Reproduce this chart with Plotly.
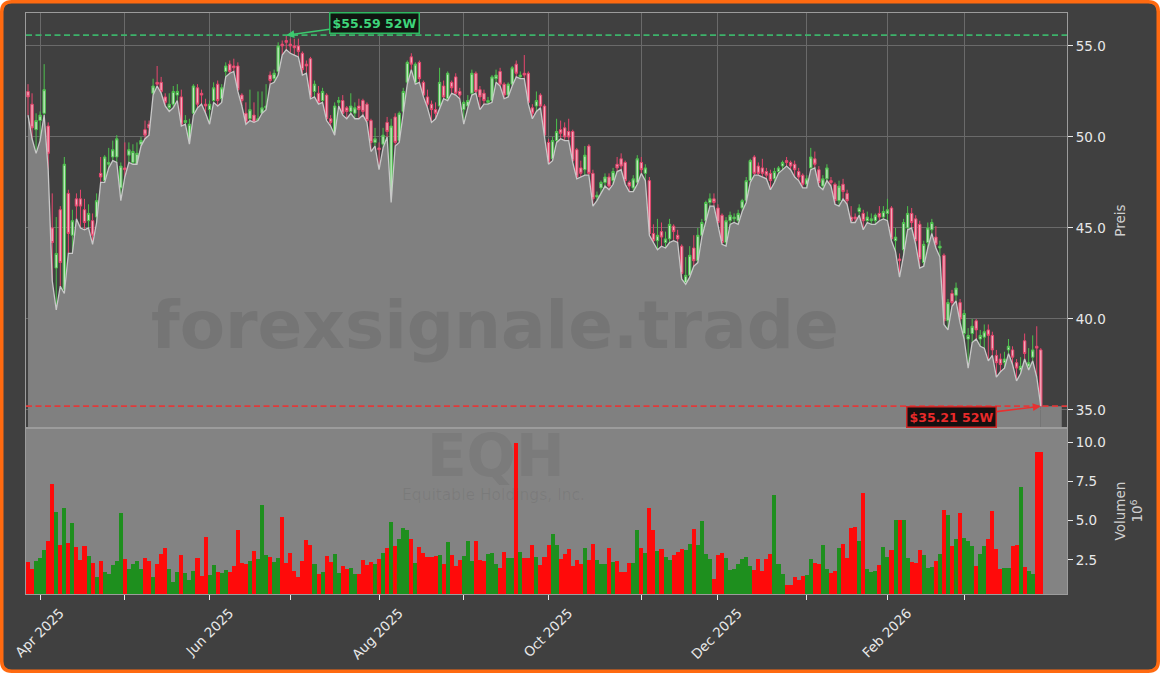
import pandas as pd
import plotly.graph_objects as go
from plotly.subplots import make_subplots

# ---------------- data ----------------
holidays = ["2025-04-18", "2025-05-26", "2025-06-19", "2025-07-04", "2025-09-01",
            "2025-11-27", "2025-12-25", "2026-01-01", "2026-01-19", "2026-02-16"]
dates = pd.bdate_range("2025-03-27", "2026-03-27", freq="C",
                       holidays=holidays).strftime("%Y-%m-%d").tolist()

open_ = [52.5, 51.8, 50.4, 50.9, 51.3, 50.6, 45.0, 42.8, 46.0, 41.6,
         46.9, 44.6, 46.6, 46.6, 46.0, 45.4, 45.4, 45.6, 48.0, 47.6,
         48.5, 48.9, 48.9, 47.2, 48.3, 49.0, 48.6, 48.5, 49.6, 50.4,
         50.7, 52.4, 53.0, 53.0, 52.2, 51.6, 51.8, 52.3, 52.2, 50.8,
         49.7, 51.3, 52.7, 52.4, 51.8, 51.5, 52.0, 52.9, 52.1, 53.6,
         54.0, 53.9, 53.9, 52.3, 51.3, 51.0, 51.2, 50.9, 51.3, 51.6,
         53.4, 53.2, 53.6, 55.1, 55.3, 55.1, 55.0, 55.0, 54.6, 54.0,
         54.3, 52.5, 52.4, 52.0, 52.3, 51.0, 50.2, 51.9, 52.0, 51.6,
         51.4, 51.3, 51.7, 52.0, 51.8, 50.9, 49.7, 49.4, 49.6, 50.8,
         46.5, 51.1, 49.8, 51.4, 53.0, 54.4, 53.0, 54.1, 53.0, 52.2,
         51.8, 51.5, 51.7, 52.8, 52.1, 53.0, 53.3, 52.5, 51.5, 51.7,
         52.4, 53.5, 52.6, 52.4, 51.9, 52.0, 53.2, 53.6, 52.9, 52.3,
         52.9, 54.0, 53.3, 53.5, 53.5, 51.6, 51.7, 52.3, 51.7, 49.7,
         48.8, 49.8, 50.4, 50.5, 50.3, 50.3, 49.3, 48.3, 48.2, 49.5,
         48.0, 46.7, 47.2, 47.5, 47.8, 47.6, 48.5, 48.8, 48.6, 47.5,
         47.2, 47.5, 48.6, 48.0, 47.6, 44.7, 44.3, 44.8, 44.2, 44.4,
         45.1, 44.6, 44.0, 42.0, 42.4, 43.9, 43.2, 44.6, 45.4, 46.4,
         46.6, 46.1, 45.7, 44.2, 45.4, 45.5, 45.4, 46.1, 46.5, 47.6,
         48.9, 48.4, 48.3, 48.1, 48.0, 47.7, 48.1, 48.4, 48.7, 48.6,
         48.5, 48.1, 47.9, 47.4, 48.3, 48.8, 48.2, 47.3, 47.7, 47.6,
         47.4, 46.5, 47.4, 46.9, 45.6, 45.6, 45.9, 45.8, 45.4, 45.4,
         45.4, 45.8, 45.6, 45.8, 46.1, 44.3, 43.3, 43.8, 45.0, 45.8,
         45.5, 45.2, 43.1, 44.2, 44.9, 44.5, 43.9, 43.5, 39.9, 41.4,
         41.3, 40.9, 39.2, 38.9, 39.2, 39.9, 38.9, 39.0, 39.4, 39.1,
         38.0, 37.8, 37.6, 38.3, 38.3, 37.6, 37.2, 38.8, 37.4, 37.9,
         38.5, 38.3]

high = [52.9, 52.4, 51.3, 51.4, 54.0, 50.8, 46.9, 45.6, 46.2, 48.9,
        47.1, 46.0, 46.9, 47.1, 46.6, 46.3, 45.8, 46.9, 48.9, 49.0,
        49.4, 49.8, 50.1, 48.6, 49.7, 49.7, 49.6, 49.7, 50.0, 50.9,
        50.9, 53.2, 53.9, 53.3, 52.4, 52.4, 52.8, 52.9, 52.6, 51.2,
        51.0, 52.9, 52.9, 52.6, 52.1, 52.0, 53.0, 53.1, 52.9, 54.1,
        54.2, 54.3, 54.1, 52.4, 51.9, 52.6, 51.9, 52.5, 52.5, 52.9,
        53.6, 53.7, 55.2, 55.3, 55.59, 55.4, 55.4, 55.4, 54.7, 54.2,
        54.4, 53.1, 52.8, 52.7, 52.4, 51.2, 51.9, 52.2, 52.3, 51.7,
        52.4, 51.9, 52.1, 52.1, 51.9, 51.0, 50.5, 49.7, 50.5, 51.1,
        51.0, 51.3, 51.4, 52.7, 54.2, 54.6, 54.1, 54.2, 53.1, 52.6,
        52.0, 51.9, 53.8, 53.1, 53.6, 53.1, 53.5, 52.7, 52.0, 52.3,
        53.7, 53.6, 52.8, 52.6, 52.2, 53.4, 53.7, 53.8, 53.0, 53.0,
        53.9, 54.2, 53.6, 54.5, 53.6, 51.8, 52.5, 52.4, 51.8, 49.9,
        50.0, 51.0, 50.9, 50.8, 51.0, 50.4, 49.4, 48.7, 49.5, 49.6,
        48.2, 47.0, 47.6, 48.0, 48.0, 48.3, 48.9, 49.1, 48.7, 47.6,
        47.9, 49.0, 48.9, 48.5, 47.8, 45.2, 45.5, 45.3, 44.8, 45.5,
        45.2, 44.9, 44.1, 43.4, 44.0, 44.6, 45.0, 45.5, 46.5, 46.9,
        46.9, 46.3, 45.8, 45.6, 45.9, 45.8, 46.0, 46.6, 47.8, 48.8,
        49.0, 48.6, 48.8, 48.3, 48.2, 48.3, 48.4, 48.7, 48.9, 48.7,
        48.7, 48.3, 48.0, 47.9, 49.4, 49.2, 48.4, 47.9, 48.5, 47.8,
        47.5, 47.6, 47.7, 47.1, 46.2, 45.8, 46.3, 46.0, 45.9, 45.8,
        45.8, 46.2, 46.2, 46.6, 46.2, 45.0, 43.6, 45.5, 46.2, 46.1,
        45.7, 45.4, 44.3, 45.3, 45.5, 45.1, 44.3, 43.6, 41.1, 41.6,
        42.0, 41.1, 40.5, 39.5, 40.0, 40.0, 39.4, 39.7, 39.7, 39.3,
        38.3, 38.1, 38.2, 38.9, 38.5, 37.8, 37.9, 39.2, 38.4, 39.1,
        39.6, 38.4]

low = [51.2, 49.9, 49.1, 49.8, 51.2, 48.2, 42.1, 40.5, 41.8, 41.4,
       43.6, 43.6, 45.5, 45.0, 44.9, 45.0, 44.1, 45.3, 47.5, 47.5,
       48.3, 48.7, 48.6, 46.5, 47.8, 48.6, 48.5, 48.5, 49.5, 49.9,
       50.1, 52.3, 52.8, 52.4, 51.7, 51.4, 51.6, 52.0, 50.6, 50.7,
       49.6, 51.2, 51.6, 51.8, 51.3, 50.7, 51.9, 51.7, 51.9, 53.3,
       53.5, 53.6, 52.5, 51.7, 50.7, 50.9, 50.8, 50.9, 51.3, 51.5,
       52.9, 53.0, 53.4, 54.5, 54.8, 54.6, 54.5, 54.4, 53.4, 53.5,
       52.1, 52.2, 51.8, 51.9, 50.9, 50.6, 50.1, 51.7, 51.2, 51.0,
       51.3, 51.0, 51.0, 51.2, 50.8, 49.2, 49.5, 48.2, 49.4, 50.0,
       46.4, 49.5, 49.7, 51.3, 52.9, 53.7, 52.9, 53.0, 52.2, 51.6,
       50.8, 51.0, 51.6, 52.1, 52.0, 52.4, 52.3, 52.1, 50.7, 51.6,
       52.3, 52.4, 51.5, 51.8, 51.8, 51.9, 53.0, 52.8, 52.1, 52.2,
       52.8, 53.3, 53.2, 53.2, 51.8, 51.0, 51.4, 51.6, 50.0, 48.5,
       48.7, 49.7, 49.9, 49.8, 49.8, 48.6, 47.7, 47.8, 47.9, 47.9,
       46.2, 46.5, 46.9, 47.3, 47.1, 47.4, 48.1, 48.2, 47.4, 47.0,
       47.0, 47.4, 48.0, 47.6, 44.6, 44.2, 43.8, 44.0, 43.9, 44.2,
       44.3, 44.2, 42.2, 41.9, 42.3, 42.9, 43.1, 44.5, 45.3, 46.2,
       46.2, 45.1, 44.1, 44.0, 45.2, 45.3, 45.2, 45.9, 46.4, 47.5,
       47.9, 47.9, 47.8, 47.7, 47.1, 47.5, 48.0, 48.2, 48.4, 48.2,
       47.8, 47.6, 47.2, 47.2, 48.2, 48.3, 47.3, 47.1, 47.6, 47.3,
       46.3, 46.2, 46.6, 46.3, 45.3, 45.3, 45.7, 44.9, 45.3, 45.2,
       45.2, 45.4, 45.5, 45.4, 44.3, 43.7, 42.3, 43.5, 44.9, 45.0,
       44.1, 42.8, 42.9, 43.9, 44.7, 43.9, 43.4, 39.7, 39.4, 40.7,
       41.0, 39.8, 38.9, 37.3, 38.7, 38.9, 38.5, 38.4, 37.7, 38.0,
       36.8, 37.1, 37.3, 38.1, 37.5, 36.6, 37.0, 37.8, 37.2, 37.7,
       36.8, 35.21]

close = [52.2, 50.5, 50.9, 51.2, 52.6, 49.1, 44.2, 43.6, 43.1, 48.5,
         44.7, 45.4, 46.2, 46.2, 45.3, 45.8, 44.6, 46.5, 47.8, 48.9,
         48.6, 49.3, 49.9, 48.4, 48.2, 49.3, 49.2, 49.1, 49.8, 50.1,
         50.5, 52.8, 52.9, 52.5, 51.9, 51.8, 52.5, 52.5, 50.7, 50.9,
         50.7, 52.8, 51.8, 52.3, 51.7, 51.8, 52.7, 52.0, 52.7, 53.9,
         53.6, 53.8, 52.6, 52.0, 50.8, 51.5, 50.8, 51.0, 51.6, 51.7,
         53.1, 53.5, 55.0, 55.0, 55.2, 55.0, 54.9, 54.7, 53.7, 53.9,
         52.2, 52.9, 51.9, 52.5, 51.0, 50.8, 51.7, 52.0, 51.3, 51.4,
         51.7, 51.6, 51.5, 51.4, 50.9, 49.7, 49.9, 49.3, 50.1, 50.3,
         50.6, 49.7, 51.3, 52.5, 54.1, 54.0, 54.0, 53.2, 52.3, 51.8,
         51.5, 51.3, 53.0, 52.2, 53.5, 52.7, 52.4, 52.3, 51.9, 52.0,
         53.5, 52.5, 52.2, 52.0, 52.0, 53.3, 53.4, 52.9, 52.3, 52.9,
         53.8, 53.5, 53.4, 53.4, 51.9, 51.3, 52.0, 51.7, 50.1, 48.6,
         49.8, 50.3, 50.2, 50.0, 50.0, 48.7, 47.8, 48.0, 49.0, 48.0,
         46.6, 46.8, 47.5, 47.8, 47.3, 48.1, 48.3, 48.4, 47.6, 47.3,
         47.7, 48.8, 48.2, 48.3, 44.7, 44.3, 44.6, 44.5, 44.4, 45.2,
         44.8, 44.4, 42.5, 42.4, 43.5, 43.2, 44.6, 45.3, 46.4, 46.6,
         46.4, 45.3, 44.2, 45.4, 45.7, 45.6, 45.8, 46.5, 47.6, 48.7,
         48.0, 48.0, 48.0, 47.9, 47.6, 48.1, 48.3, 48.6, 48.6, 48.4,
         48.2, 47.8, 47.4, 47.7, 48.9, 48.5, 47.5, 47.7, 48.3, 47.5,
         46.5, 47.3, 47.0, 46.5, 45.4, 45.5, 46.1, 45.4, 45.6, 45.5,
         45.7, 45.6, 45.9, 46.0, 44.4, 44.5, 43.2, 45.3, 45.8, 45.3,
         44.3, 43.3, 44.1, 45.0, 45.3, 44.1, 44.0, 39.9, 40.9, 40.9,
         41.7, 40.0, 40.3, 39.1, 39.6, 39.4, 39.1, 39.3, 39.1, 38.3,
         37.6, 37.5, 37.8, 38.5, 37.9, 37.3, 37.4, 38.1, 37.6, 38.3,
         38.4, 35.21]

volume_mio = [2.38, 1.91, 2.42, 2.63, 3.12, 3.69, 7.32, 5.54, 3.44, 5.79,
              3.54, 4.86, 3.33, 2.48, 3.37, 2.74, 2.27, 1.42, 2.42, 1.70,
              1.59, 2.16, 2.42, 5.46, 2.53, 1.91, 2.23, 2.42, 1.91, 2.59,
              2.42, 1.42, 2.23, 2.86, 3.23, 1.91, 1.08, 1.74, 2.80, 1.63,
              1.21, 1.78, 2.59, 1.48, 3.97, 1.53, 2.16, 1.70, 1.63, 1.85,
              1.70, 2.12, 4.39, 2.27, 2.21, 2.42, 3.08, 2.55, 5.99, 2.80,
              2.70, 2.34, 2.63, 5.24, 2.27, 2.95, 1.78, 1.42, 2.42, 3.76,
              3.44, 2.23, 1.59, 1.70, 2.74, 2.38, 2.84, 1.63, 2.10, 1.91,
              1.99, 1.59, 1.59, 2.48, 2.16, 2.34, 2.23, 2.55, 2.91, 3.23,
              4.90, 3.37, 3.82, 4.50, 4.39, 3.82, 2.27, 3.33, 2.95, 2.70,
              2.70, 2.74, 2.80, 2.23, 3.63, 2.80, 2.12, 2.48, 2.74, 3.69,
              2.42, 3.69, 2.48, 2.42, 2.84, 2.91, 2.23, 1.99, 2.99, 2.63,
              2.63, 9.96, 2.97, 2.63, 2.63, 3.44, 2.70, 2.16, 2.70, 3.44,
              4.14, 3.44, 2.55, 2.84, 3.18, 2.12, 2.48, 2.23, 3.25, 2.48,
              3.50, 2.48, 2.23, 2.23, 3.25, 2.38, 2.42, 1.74, 1.74, 2.27,
              2.27, 4.39, 3.25, 2.91, 5.82, 4.39, 3.06, 3.18, 2.70, 2.48,
              2.80, 3.01, 3.18, 3.12, 3.50, 4.48, 3.44, 4.99, 2.86, 2.55,
              1.27, 2.80, 2.95, 2.63, 1.85, 1.91, 2.21, 2.53, 2.65, 2.10,
              1.85, 2.55, 1.78, 2.57, 2.86, 6.62, 2.23, 1.59, 0.89, 0.89,
              1.38, 1.21, 1.46, 1.53, 2.53, 2.31, 2.23, 3.44, 1.89, 1.63,
              1.78, 3.23, 3.48, 2.63, 4.54, 4.56, 3.69, 6.73, 1.91, 1.74,
              1.78, 2.16, 3.29, 2.70, 3.12, 5.03, 5.03, 5.03, 2.63, 2.34,
              2.31, 3.12, 2.80, 1.99, 2.06, 2.44, 2.84, 5.67, 5.35, 3.37,
              3.82, 5.46, 3.91, 3.71, 3.37, 2.10, 2.86, 3.37, 3.82, 5.60,
              3.18, 1.89, 1.99, 1.99, 3.37, 3.44, 7.15, 2.06, 1.78, 1.59,
              9.34, 9.38]

label_ticks = ["2025-04-01", "2025-06-02", "2025-08-01", "2025-10-01",
               "2025-12-01", "2026-02-02"]
label_texts = ["Apr 2025", "Jun 2025", "Aug 2025", "Oct 2025", "Dec 2025", "Feb 2026"]
minor_ticks = ["2025-05-01", "2025-07-01", "2025-09-02", "2025-11-03",
               "2026-01-02", "2026-03-02"]
price_ticks = [35, 40, 45, 50, 55]
volume_ticks = [2.5, 5.0, 7.5, 10.0]
ticker = "EQH"
company = "Equitable Holdings, Inc."
watermark = "forexsignale.trade"

# ---------------- style ----------------
BG = "#404040"
GRID = "#6a6a6a"
SPINE = "#9c9c9c"
TXT = "#e8e8e8"
FONT = "DejaVu Sans"
UP_LINE, UP_FILL = "#4cc04c", "#bfe6bf"
DN_LINE, DN_FILL = "#e6456d", "#f4a9ba"
VOL_UP, VOL_DN = "#1e8f1e", "#ff0a0a"

W, H = 1160, 673
ML, MR, MT, MB = 26, 93, 13, 79
split = 0.2857
X_RANGE = [-0.5, 257.5]

fig = make_subplots(rows=2, cols=1, shared_xaxes=True, vertical_spacing=0)

fig.add_trace(go.Scatter(x=dates, y=low, mode="lines", fill="tozeroy",
                         line=dict(color="#c8c8c8", width=1.3),
                         fillcolor="#808080", hoverinfo="skip"), row=1, col=1)

fig.add_trace(go.Candlestick(x=dates, open=open_, high=high, low=low, close=close,
                             increasing=dict(line=dict(color=UP_LINE, width=1), fillcolor=UP_FILL),
                             decreasing=dict(line=dict(color=DN_LINE, width=1), fillcolor=DN_FILL),
                             whiskerwidth=0), row=1, col=1)

vol_colors = [VOL_UP if c >= o else VOL_DN for o, c in zip(open_, close)]
fig.add_trace(go.Bar(x=dates, y=volume_mio, marker=dict(color=vol_colors, line=dict(width=0)),
                     hoverinfo="skip"), row=2, col=1)

hi = max(high)
lo = min(low)
hi_d = dates[high.index(hi)]
lo_d = dates[low.index(lo)]

pw, ph = W - ML - MR, H - MT - MB
def px(x): return (x - ML) / pw
def py(y): return (H - MB - y) / ph

# rounded figure frame (filled background + orange border)
r = 10
a, b, c, d = 1.75, W - 1.75, 1.75, H - 1.75
path = (f"M {px(a+r)},{py(c)} L {px(b-r)},{py(c)} Q {px(b)},{py(c)} {px(b)},{py(c+r)} "
        f"L {px(b)},{py(d-r)} Q {px(b)},{py(d)} {px(b-r)},{py(d)} "
        f"L {px(a+r)},{py(d)} Q {px(a)},{py(d)} {px(a)},{py(d-r)} "
        f"L {px(a)},{py(c+r)} Q {px(a)},{py(c)} {px(a+r)},{py(c)} Z")

shapes = [
    dict(type="path", xref="paper", yref="paper", path=path, fillcolor=BG,
         line=dict(color="#ff6a10", width=3.5), layer="below"),
    dict(type="rect", xref="x2 domain", yref="y2 domain", x0=0, x1=1, y0=0, y1=1,
         fillcolor="#838383", line=dict(width=0), layer="below"),
    # area continues flat after the last session, as in the reference
    dict(type="rect", xref="x", yref="y", x0=len(dates) - 1, x1=len(dates) + 4.2,
         y0=30, y1=lo, fillcolor="#808080", line=dict(width=0), layer="between"),
    dict(type="line", xref="x domain", yref="y", x0=0, x1=1, y0=hi, y1=hi,
         line=dict(color="#3cb36a", width=1.7, dash="6px,3.5px")),
    dict(type="line", xref="x domain", yref="y", x0=0, x1=1, y0=lo, y1=lo,
         line=dict(color="#e03a3a", width=1.7, dash="6px,3.5px")),
]

annotations = [
    dict(x=hi_d, y=hi, xref="x", yref="y", text=f"<b>${hi:.2f} 52W</b>",
         showarrow=True, arrowhead=2, arrowsize=1, arrowwidth=1.6, arrowcolor="#3cc96e",
         ax=88, ay=-12, font=dict(family=FONT, size=12.5, color="#3ed47a"),
         bgcolor="#101510", bordercolor="#2eb860", borderwidth=1.5, borderpad=2),
    dict(x=lo_d, y=lo, xref="x", yref="y", text=f"<b>${lo:.2f} 52W</b>",
         showarrow=True, arrowhead=2, arrowsize=1, arrowwidth=1.6, arrowcolor="#e83030",
         ax=-89, ay=11, font=dict(family=FONT, size=12.5, color="#e82a2a"),
         bgcolor="#151010", bordercolor="#d02828", borderwidth=1.5, borderpad=2),
    dict(x=px(495), y=py(325), xref="paper", yref="paper", text=f"<b>{watermark}</b>",
         xanchor="center", yanchor="middle", showarrow=False,
         font=dict(family=FONT, size=66, color="rgba(40,40,40,0.12)")),
    dict(x=px(495), y=py(456), xref="paper", yref="paper", text=f"<b>{ticker}</b>",
         xanchor="center", yanchor="middle", showarrow=False,
         font=dict(family=FONT, size=58, color="rgba(40,40,40,0.09)")),
    dict(x=px(493), y=py(495), xref="paper", yref="paper", text=company,
         xanchor="center", yanchor="middle", showarrow=False,
         font=dict(family=FONT, size=15.5, color="rgba(40,40,40,0.09)")),
]

axis_common = dict(showline=True, linecolor=SPINE, linewidth=1, mirror=True,
                   tickfont=dict(family=FONT, size=13.5, color=TXT), zeroline=False)

fig.update_layout(
    width=W, height=H, margin=dict(l=ML, r=MR, t=MT, b=MB),
    paper_bgcolor="#ffffff", plot_bgcolor=BG, showlegend=False, bargap=0, boxgap=0.15,
    font=dict(family=FONT, color=TXT),
    shapes=shapes, annotations=annotations, hovermode=False,
    xaxis=dict(type="category", categoryorder="array", categoryarray=dates,
               range=X_RANGE, tickvals=label_ticks + minor_ticks, showticklabels=False,
               showgrid=True, gridcolor=GRID, gridwidth=1, ticks="",
               rangeslider=dict(visible=False), **axis_common),
    xaxis2=dict(type="category", categoryorder="array", categoryarray=dates,
                range=X_RANGE, tickvals=label_ticks, ticktext=label_texts,
                showgrid=False, ticks="outside", ticklen=5, tickcolor=TXT,
                minor=dict(tickvals=minor_ticks, ticks="outside", ticklen=5,
                           tickcolor=TXT, showgrid=False),
                tickangle=-45, ticklabelshift=20, **axis_common),
    yaxis=dict(domain=[split, 1], range=[34.01, 56.81], side="right",
               tickvals=price_ticks, tickformat=".1f", ticks="outside", ticklen=5,
               tickcolor=TXT, showgrid=True, gridcolor=GRID, gridwidth=1,
               title=dict(text="Preis", font=dict(family=FONT, size=13.5, color="#d0d0d0"),
                          standoff=10), **axis_common),
    yaxis2=dict(domain=[0, split], range=[0.32, 10.9], side="right",
                tickvals=volume_ticks, tickformat=".1f", ticks="outside", ticklen=5,
                tickcolor=TXT, showgrid=False,
                title=dict(text="Volumen<br>10<sup>6</sup>",
                           font=dict(family=FONT, size=13.5, color="#d0d0d0"),
                           standoff=10), **axis_common),
)

fig.write_html("out.html", config={"displayModeBar": False},
               post_script="document.body.style.margin='0';document.body.style.overflow='hidden';")
